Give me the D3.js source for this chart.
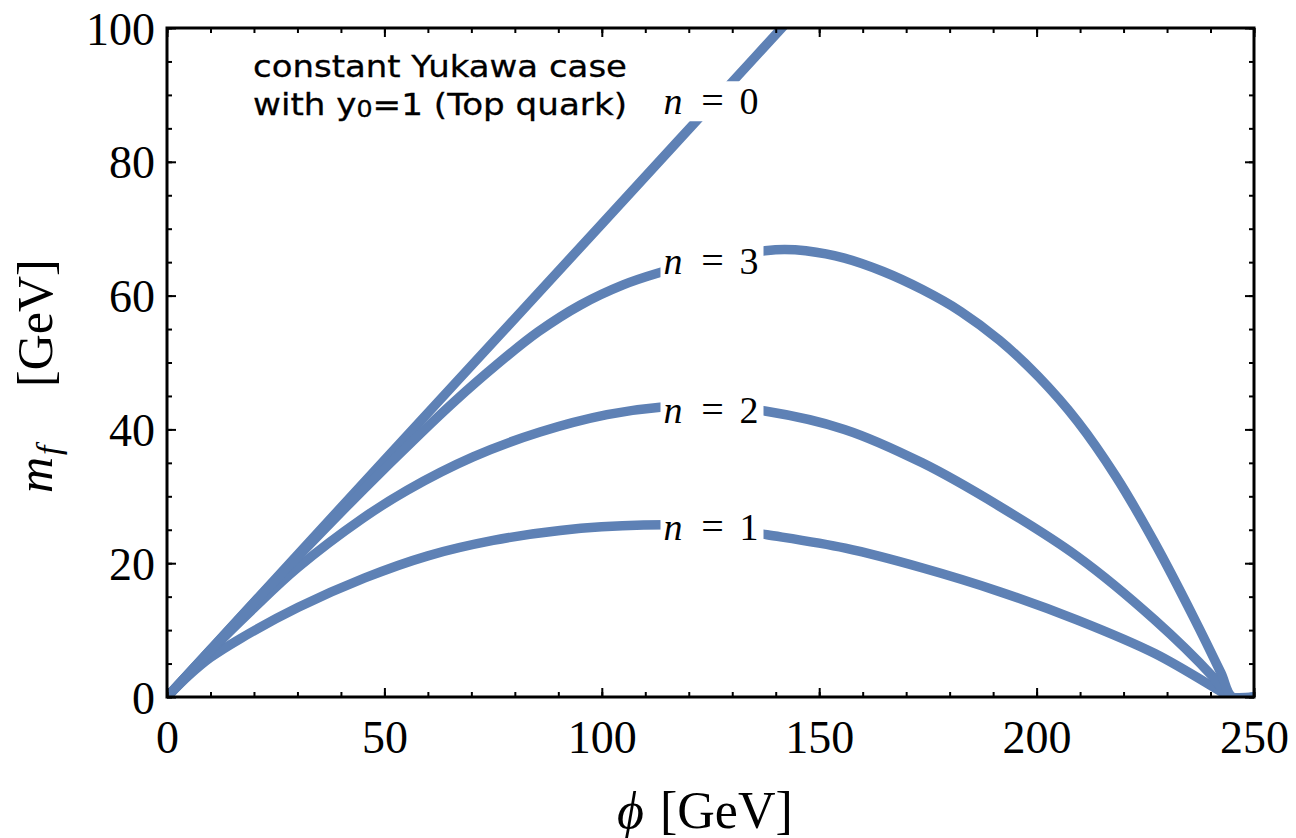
<!DOCTYPE html>
<html lang="en">
<head>
<meta charset="utf-8">
<title>mf vs phi</title>
<script src="https://d3js.org/d3.v7.min.js"></script>
<style>
  body { margin: 0; background: #fff; }
  .tick text { font-family: "Liberation Serif", "Times New Roman", serif; font-size: 46px; fill: #000; }
</style>
</head>
<body>
<div id="chart"></div>
<script>

// values: [phi, m_f] in GeV
var curveN0 = [[0, 0], [50, 35.4], [100, 70.7], [125, 88.4], [150, 106.1]];
var curveN1 = [[0, 0], [5, 3.2], [10, 5.9], [16.8, 8.7], [30.2, 13.4], [45.5, 17.8], [60, 21.1], [75, 23.4],
  [90.4, 24.9], [109.6, 25.7], [125, 25.5], [138, 24.25], [156, 22.25], [174, 19.25], [191.5, 15.75],
  [209.4, 11.5], [227.2, 6.5], [242.4, 0.8], [244.5, 0], [250, 0]];
var curveN2 = [[0, 0], [10, 6.9], [20, 13.3], [30, 19.3], [45, 26.7], [55.2, 30.9], [70.4, 35.9], [85.8, 39.6],
  [101.2, 42.2], [113.4, 43.3], [125, 43.5], [137.5, 42.75], [155.8, 40], [173.7, 35], [191.5, 28.5],
  [209.4, 21], [227.2, 11.5], [240.6, 3], [244.5, 0], [250, 0]];
var curveN3 = [[0, 0], [10, 7.05], [20, 14.1], [30, 20.9], [45, 30.9], [58, 39.2], [66, 44.1], [75.7, 49.6],
  [85.4, 54.6], [95.1, 58.6], [104.9, 61.6], [112.6, 63.3], [125, 65.4], [137.5, 66.7], [142, 66.9],
  [146.9, 66.7], [155.8, 65.6], [164.7, 63.6], [173.7, 60.9], [182.6, 57.6], [191.5, 53.3], [200.4, 47.9],
  [209.4, 41.2], [218.3, 32.9], [227.2, 23], [236.2, 11.8], [242.4, 3.6], [245, 0], [250, 0]];

var curves = [curveN0, curveN1, curveN2, curveN3];
var curveNames = ["0", "1", "2", "3"];
// label centre (phi, m_f) for each curve
var labelPhi = [125, 125, 125, 125];
var labelM = [88.9, 25.3, 42.75, 65.0];

var xMajor = [0, 50, 100, 150, 200, 250];
var xMinor = d3.range(0, 251, 10);
var yMajor = [0, 20, 40, 60, 80, 100];
var yMinor = d3.range(0, 101, 5);

var lineColor = "#5e81b5";

var W = 1296, H = 838;
var plotLeft = 167, plotRight = 1254, plotTop = 28, plotBottom = 697;

var svg = d3.select("#chart").append("svg")
  .attr("width", W)
  .attr("height", H);

var x = d3.scaleLinear().domain([0, 250]).range([plotLeft, plotRight]);
var y = d3.scaleLinear().domain([0, 100]).range([plotBottom, plotTop]);

svg.append("clipPath").attr("id", "plotclip")
  .append("rect")
    .attr("x", plotLeft).attr("y", plotTop)
    .attr("width", plotRight - plotLeft).attr("height", plotBottom - plotTop);

// ---------- curves ----------
var line = d3.line()
  .x(function(d) { return x(d[0]); })
  .y(function(d) { return y(d[1]); })
  .curve(d3.curveCatmullRom.alpha(0.5));

svg.append("g")
    .attr("clip-path", "url(#plotclip)")
  .selectAll("path")
  .data(curves)
  .enter()
  .append("path")
    .attr("d", line)
    .attr("fill", "none")
    .attr("stroke", lineColor)
    .attr("stroke-width", 9.5)
    .attr("stroke-linejoin", "round");

// ---------- curve labels (white box cuts the line) ----------
var labels = svg.append("g");
curveNames.forEach(function(name, i) {
  var cx = x(labelPhi[i]), cy = y(labelM[i]);
  labels.append("rect")
    .attr("x", cx - 50).attr("y", cy - 21)
    .attr("width", 103).attr("height", 40)
    .attr("fill", "#fff");
  var base = cy + 12;
  labels.append("text")
    .attr("x", cx - 47).attr("y", base)
    .style("font-family", "Liberation Serif, serif")
    .style("font-style", "italic")
    .style("font-size", "38px")
    .text("n");
  labels.append("text")
    .attr("x", cx + 2).attr("y", base)
    .attr("text-anchor", "middle")
    .style("font-family", "Liberation Serif, serif")
    .style("font-size", "40px")
    .text("=");
  labels.append("text")
    .attr("x", cx + 29).attr("y", base)
    .style("font-family", "Liberation Serif, serif")
    .style("font-size", "38px")
    .text(name);
});

// ---------- note ----------
var note = svg.append("g")
  .style("font-family", "DejaVu Sans, sans-serif")
  .style("font-size", "31px")
  .attr("stroke", "#000")
  .attr("stroke-width", 0.3);
note.append("text")
  .attr("x", 253).attr("y", 77)
  .attr("textLength", 374)
  .attr("lengthAdjust", "spacingAndGlyphs")
  .text("constant Yukawa case");
var l2 = note.append("text")
  .attr("x", 253).attr("y", 115)
  .attr("textLength", 374)
  .attr("lengthAdjust", "spacingAndGlyphs");
l2.append("tspan").text("with y");
l2.append("tspan").style("font-size", "23px").attr("dy", 2).text("0");
l2.append("tspan").attr("dy", -2).text("=1 (Top quark)");

// ---------- axes: inward ticks on all four sides ----------
function styleAxis(g) {
  g.select(".domain").remove();
  g.selectAll(".tick line").attr("stroke", "#000").attr("stroke-width", 2);
}

svg.append("g")
  .attr("transform", "translate(0," + plotBottom + ")")
  .call(d3.axisBottom(x).tickValues(xMinor).tickSize(-5).tickFormat(""))
  .call(styleAxis);
svg.append("g")
  .attr("transform", "translate(0," + plotTop + ")")
  .call(d3.axisTop(x).tickValues(xMinor).tickSize(-5).tickFormat(""))
  .call(styleAxis);
svg.append("g")
  .attr("transform", "translate(" + plotLeft + ",0)")
  .call(d3.axisLeft(y).tickValues(yMinor).tickSize(-5).tickFormat(""))
  .call(styleAxis);
svg.append("g")
  .attr("transform", "translate(" + plotRight + ",0)")
  .call(d3.axisRight(y).tickValues(yMinor).tickSize(-5).tickFormat(""))
  .call(styleAxis);

var xAxis = svg.append("g")
  .attr("transform", "translate(0," + plotBottom + ")")
  .call(d3.axisBottom(x).tickValues(xMajor).tickSize(-9).tickFormat(d3.format("d")))
  .call(styleAxis);
xAxis.selectAll(".tick text").attr("y", 56).attr("dy", null);

svg.append("g")
  .attr("transform", "translate(0," + plotTop + ")")
  .call(d3.axisTop(x).tickValues(xMajor).tickSize(-9).tickFormat(""))
  .call(styleAxis);

var yAxis = svg.append("g")
  .attr("transform", "translate(" + plotLeft + ",0)")
  .call(d3.axisLeft(y).tickValues(yMajor).tickSize(-9).tickFormat(d3.format("d")))
  .call(styleAxis);
yAxis.selectAll(".tick text").attr("x", -12).attr("y", 16).attr("dy", null);

svg.append("g")
  .attr("transform", "translate(" + plotRight + ",0)")
  .call(d3.axisRight(y).tickValues(yMajor).tickSize(-9).tickFormat(""))
  .call(styleAxis);

// frame
svg.append("rect")
  .attr("x", plotLeft).attr("y", plotTop)
  .attr("width", plotRight - plotLeft).attr("height", plotBottom - plotTop)
  .attr("fill", "none")
  .attr("stroke", "#000")
  .attr("stroke-width", 3);

// ---------- axis titles ----------
var xTitle = svg.append("text")
  .attr("x", 617).attr("y", 828)
  .style("font-family", "Liberation Serif, serif")
  .style("font-size", "52px");
xTitle.append("tspan").style("font-style", "italic").text("\u03d5");
xTitle.append("tspan").attr("x", 660).text("[GeV]");

var yTitle = svg.append("text")
  .attr("transform", "translate(52,493) rotate(-90)")
  .style("font-family", "Liberation Serif, serif")
  .style("font-size", "50px");
yTitle.append("tspan").style("font-style", "italic").text("m");
yTitle.append("tspan").style("font-style", "italic").style("font-size", "34px").attr("x", 38).attr("dy", 8).text("f");
yTitle.append("tspan").attr("x", 106).attr("dy", -8).text("[GeV]");

</script>
</body>
</html>
